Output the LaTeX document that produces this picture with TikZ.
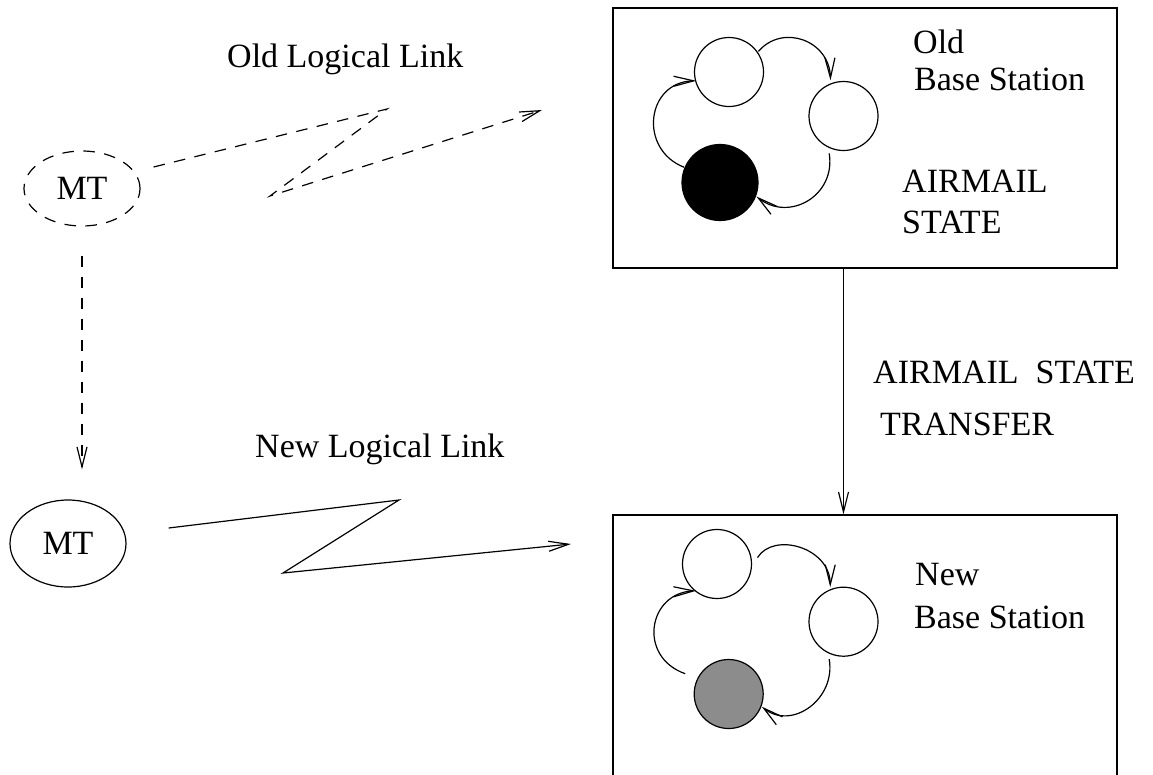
\documentclass[tikz,border=0pt]{standalone}
\usepackage{fontspec}
\setmainfont{Liberation Serif}
\usetikzlibrary{arrows.meta,calc,shapes.geometric}
\definecolor{stategray}{RGB}{140,140,140}
\tikzset{
  lbl/.style={anchor=base west, inner sep=0pt, font=\fontsize{34}{40}\selectfont},
  st/.style={circle, draw, line width=1.2pt, minimum size=69pt, inner sep=0pt},
  tip/.style={-{Straight Barb[length=20pt,width=10pt]}},
  link/.style={line width=1.2pt},
  dsh/.style={dash pattern=on 11.5pt off 9.5pt},
  mt/.style={ellipse, draw, line width=1.2pt, inner sep=0pt, font=\fontsize{34}{40}\selectfont},
  bs/.style={rectangle, draw, line width=1.2pt, inner sep=0pt}
}
\begin{document}
\begin{tikzpicture}[x=1pt,y=-1pt]
\useasboundingbox (0,0) rectangle (1153,774);
\clip (0,0) rectangle (1153,774);

% base stations
\node[bs, minimum width=504pt, minimum height=260pt] (obs) at (865,138) {};
\node[bs, minimum width=504pt, minimum height=300pt] (nbs) at (865,665) {};

% mobile terminals
\node[mt, dsh, minimum width=116pt, minimum height=75pt] (mtold) at (82,188.5) {MT};
\node[mt, minimum width=116pt, minimum height=87pt] (mtnew) at (68,543.5) {MT};

% labels
\node[lbl] (oldlink) at (227,67) {Old Logical Link};
\node[lbl] (newlink) at (255,457) {New Logical Link};
\node[lbl] (oldtxt) at (913,53) {Old};
\node[lbl] (oldbs) at (914,90) {Base Station};
\node[lbl] (amail) at (902,192) {AIRMAIL};
\node[lbl] (astate) at (902,233) {STATE};
\node[lbl] (xfer1) at (873,383) {AIRMAIL\ \ STATE};
\node[lbl] (xfer2) at (880,435) {TRANSFER};
\node[lbl] (newtxt) at (915,585) {New};
\node[lbl] (newbs) at (914,628) {Base Station};

% state machine in the old base station
\node[st] (oA) at (729,72) {};
\node[st] (oB) at (843.5,116) {};
\node[st, fill=black, minimum size=76pt] (oC) at (720,182.5) {};
\draw[link,tip] ($(oA.center)!36pt!(oA.35)$) .. controls +(24,-28) and +(-1,-40) .. ($(oB.center)!38pt!(oB.110)$);
\draw[link,tip] ($(oB.center)!40pt!(oB.249)$) .. controls +(7,42) and +(33,26) .. ($(oC.center)!39pt!(oC.339)$);
\draw[link,tip] ($(oC.center)!39pt!(oC.157)$) .. controls +(-46,-18) and +(-50,1) .. ($(oA.center)!34pt!(oA.195)$);

% state machine in the new base station
\node[st] (nA) at (717,564) {};
\node[st] (nB) at (843.5,621.7) {};
\node[st, fill=stategray] (nC) at (728.7,694) {};
\draw[link,tip] ($(nA.center)!41pt!(nA.9)$) .. controls +(16,-26) and +(0,-40) .. ($(nB.center)!37pt!(nB.111)$);
\draw[link,tip] ($(nB.center)!40pt!(nB.249)$) .. controls +(7,40) and +(30,24) .. ($(nC.center)!35.5pt!(nC.339)$);
\draw[link,tip] ($(nC.center)!48pt!(nC.155)$) .. controls +(-48,-17) and +(-48,2) .. ($(nA.center)!34pt!(nA.232)$);

% state transfer
\draw[link,tip] (obs.south -| nB.center) -- (nbs.north -| nB.center);

% handoff of the terminal
\draw[link,dsh,tip,shorten <=29pt,shorten >=30pt] (mtold.south) -- (mtold.south |- mtnew.north);

% old logical link
\coordinate (ol1) at (387,109);
\coordinate (ol2) at (270,196);
\coordinate (ol3) at (542,110);
\draw[link,dsh,tip] ([shift={(13,-21.5)}]mtold.east) -- (ol1) -- (ol2) -- (ol3);

% new logical link
\coordinate (nl1) at (399,500);
\coordinate (nl2) at (283,573);
\coordinate (nl3) at (571,544);
\draw[link,tip] ([shift={(42,-15.5)}]mtnew.east) -- (nl1) -- (nl2) -- (nl3);
\end{tikzpicture}
\end{document}
